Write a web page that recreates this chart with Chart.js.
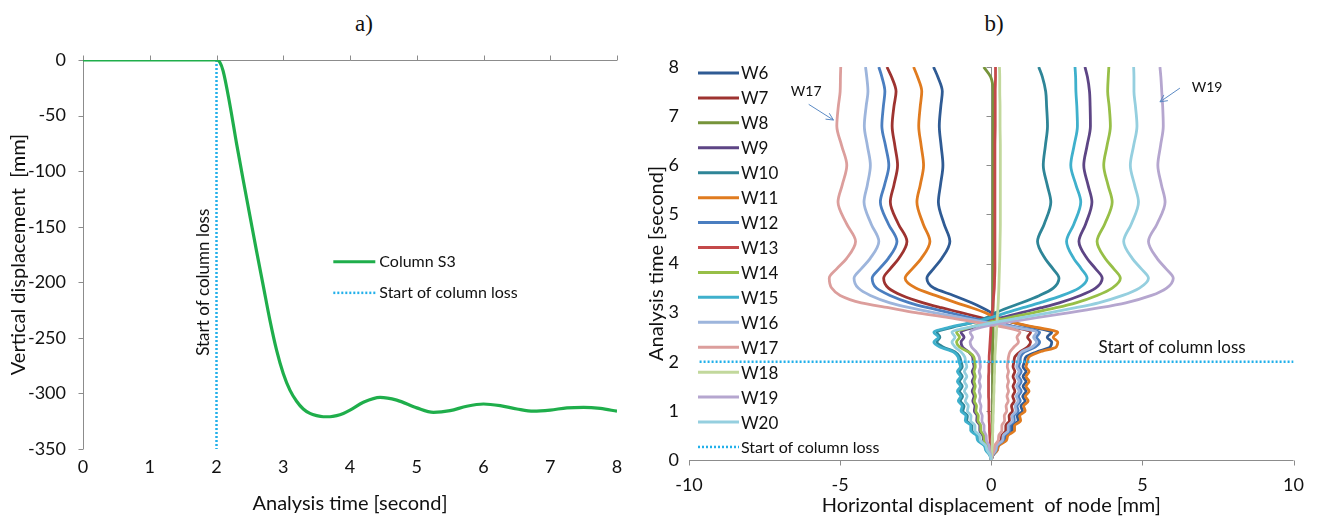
<!DOCTYPE html>
<html><head><meta charset="utf-8">
<script src="https://cdn.jsdelivr.net/npm/chart.js@4"></script>
<style>
body{margin:0;background:#fff;width:1318px;height:518px;overflow:hidden;position:relative;font-family:Lato,sans-serif}
#ca{position:absolute;left:0;top:0}
#cb{position:absolute;left:640px;top:0}
.pt{position:absolute;top:11px;font-family:'Liberation Serif',serif;font-size:23px;color:#111;transform:translateX(-50%)}
</style></head><body>
<div class="pt" style="left:364px">a)</div>
<div class="pt" style="left:994px">b)</div>
<canvas id="ca" width="640" height="518"></canvas>
<canvas id="cb" width="678" height="518"></canvas>
<script>
// ---------- Panel a data ----------
const aTime = [0,0.5,1,1.5,1.9,2.0,2.05,2.1,2.2,2.3,2.4,2.5,2.6,2.7,2.8,2.9,3.0,3.1,3.2,3.3,3.4,3.5,3.6,3.7,3.8,3.9,4.0,4.2,4.45,4.7,5.0,5.25,5.5,5.75,6.0,6.25,6.5,6.75,7.0,7.25,7.5,7.75,8.0];
const aDisp = [0,0,0,0,0,0,-2,-10,-40,-75,-108,-140,-172,-203,-234,-261,-282,-297,-307,-314,-318,-320,-321,-321,-320,-318,-315,-308,-303.5,-306,-313,-317,-315.5,-311.5,-309.5,-311,-314,-316,-315,-313,-312.5,-313.5,-316];
const lossTime = 2;
const aXTicks = [0,1,2,3,4,5,6,7,8];
const aYTicks = [0,-50,-100,-150,-200,-250,-300,-350];

// ---------- Panel b data ----------
const T = [0,0.1,0.2,0.3,0.4,0.5,0.6,0.7,0.8,0.9,1.0,1.1,1.2,1.3,1.4,1.5,1.6,1.7,1.8,1.9,2.0,
  2.1,2.2,2.3,2.4,2.5,2.6,2.7,2.8,2.9,3.0,3.1,3.2,3.35,3.5,3.7,
  3.9,4.1,4.45,4.8,5.25,5.6,6.0,6.4,6.8,7.2,7.5,7.8,8.0];
const W6 = [0,.06,.19,.24,.46,.51,.70,.70,.89,.86,1.03,.98,1.12,1.04,1.15,1.05,1.15,1.05,1.15,1.05,1.1,
  1.15,1.5,1.95,2.0,1.85,2.0,1.4,.7,.25,0,-.3,-.65,-1.25,-1.9,-2.13,
  -1.9,-1.64,-1.37,-1.56,-1.75,-1.68,-1.6,-1.66,-1.72,-1.67,-1.62,-1.77,-1.91];
const W7 = [0,.04,.13,.17,.32,.35,.48,.48,.60,.59,.70,.67,.76,.71,.78,.72,.78,.72,.78,.72,.75,
  .78,.95,1.2,1.3,1.2,1.3,.8,.25,-.35,-1.0,-1.65,-2.25,-2.95,-3.4,-3.56,
  -3.33,-3.06,-2.79,-3.07,-3.34,-3.22,-3.1,-3.19,-3.28,-3.22,-3.15,-3.3,-3.45];
const W8 = [0,.01,.02,.02,.03,.03,.03,.04,.04,.04,.04,.05,.05,.05,.05,.05,.05,.05,.05,.05,.05,
  .05,.05,.05,.05,.06,.06,.06,.06,.06,.06,.06,.06,.06,.06,.06,
  .06,.06,.06,.06,.06,.06,.06,.06,.06,.06,.06,-.02,-.25];
const W9 = [0,-.03,-.10,-.13,-.25,-.28,-.38,-.38,-.48,-.47,-.56,-.54,-.61,-.57,-.63,-.57,-.63,-.57,-.63,-.57,-.6,
  -.62,-.75,-.95,-1.0,-.9,-1.0,-.6,-.2,.35,1.0,1.65,2.25,2.95,3.45,3.67,
  3.44,3.17,2.9,3.12,3.33,3.2,3.06,3.17,3.28,3.27,3.25,3.18,3.1];
const W10 = [0,-.05,-.17,-.22,-.42,-.46,-.64,-.64,-.81,-.79,-.94,-.90,-1.02,-.95,-1.05,-.96,-1.05,-.96,-1.05,-.96,-1.0,
  -1.05,-1.2,-1.6,-1.8,-1.7,-1.8,-1.3,-.6,-.15,.15,.55,1.0,1.6,2.05,2.24,
  2.03,1.78,1.53,1.75,1.97,1.85,1.72,1.79,1.86,1.83,1.8,1.69,1.57];
const W11 = [0,.06,.20,.26,.50,.55,.77,.77,.97,.94,1.12,1.07,1.22,1.13,1.25,1.15,1.25,1.15,1.25,1.15,1.2,
  1.25,1.6,2.15,2.2,2.05,2.2,1.5,.7,.15,-.2,-.65,-1.15,-1.85,-2.5,-2.85,
  -2.6,-2.32,-2.03,-2.25,-2.46,-2.35,-2.24,-2.32,-2.4,-2.35,-2.3,-2.44,-2.57];
const W12 = [0,.05,.16,.21,.40,.44,.61,.61,.76,.75,.89,.85,.96,.90,.99,.91,.99,.91,.99,.91,.95,
  .97,1.1,1.45,1.6,1.5,1.6,.9,0,-.7,-1.4,-2.1,-2.7,-3.35,-3.8,-3.94,
  -3.69,-3.41,-3.12,-3.4,-3.67,-3.53,-3.39,-3.5,-3.62,-3.57,-3.52,-3.62,-3.72];
const W13 = [0,-.01,-.02,-.03,-.04,-.05,-.06,-.06,-.07,-.07,-.08,-.08,-.08,-.09,-.09,-.09,-.09,-.09,-.08,-.08,-.07,
  -.07,-.06,-.05,-.04,-.03,-.02,-.01,0,.02,.03,.05,.06,.08,.1,.11,
  .12,.12,.12,.12,.12,.12,.12,.12,.13,.13,.13,.14,.14];
const W14 = [0,-.03,-.09,-.12,-.23,-.25,-.35,-.35,-.44,-.43,-.51,-.49,-.56,-.52,-.57,-.53,-.57,-.53,-.57,-.53,-.55,
  -.58,-.75,-1.05,-1.15,-1.05,-1.15,-.7,-.1,.6,1.4,2.15,2.8,3.5,4.0,4.27,
  4.04,3.77,3.5,3.75,4.0,3.86,3.72,3.83,3.94,3.9,3.85,3.87,3.89];
const W15 = [0,-.05,-.18,-.24,-.45,-.49,-.68,-.68,-.86,-.84,-1.0,-.96,-1.09,-1.01,-1.12,-1.02,-1.12,-1.02,-1.12,-1.02,-1.07,
  -1.1,-1.25,-1.7,-1.9,-1.75,-1.9,-1.4,-.6,0,.5,1.05,1.6,2.35,2.9,3.17,
  2.97,2.73,2.49,2.73,2.96,2.8,2.63,2.74,2.85,2.83,2.8,2.79,2.77];
const W16 = [0,.04,.15,.19,.37,.40,.56,.56,.71,.69,.82,.79,.89,.83,.92,.84,.92,.84,.92,.84,.88,
  .9,1.0,1.35,1.5,1.4,1.5,.8,-.2,-1.0,-1.9,-2.7,-3.35,-4.0,-4.4,-4.54,
  -4.29,-4.01,-3.72,-3.97,-4.21,-4.1,-4.0,-4.1,-4.2,-4.14,-4.08,-4.12,-4.16];
const W17 = [0,.03,.09,.12,.23,.25,.35,.35,.44,.43,.51,.49,.56,.52,.57,.53,.57,.53,.57,.53,.55,
  .57,.62,.75,.9,.85,.95,.45,-.5,-1.4,-2.5,-3.4,-4.3,-5.0,-5.28,-5.36,
  -5.10,-4.79,-4.49,-4.78,-5.07,-4.93,-4.78,-4.95,-5.11,-5.06,-5.0,-4.99,-4.98];
const W18 = [0,.01,.02,.03,.03,.04,.05,.05,.06,.06,.07,.07,.08,.08,.09,.09,.1,.1,.11,.11,.12,
  .12,.13,.14,.15,.16,.17,.18,.19,.2,.21,.22,.23,.24,.25,.26,
  .27,.28,.29,.3,.3,.3,.3,.3,.29,.29,.28,.28,.27];
const W19 = [0,-.02,-.06,-.08,-.16,-.17,-.24,-.24,-.31,-.30,-.36,-.34,-.39,-.36,-.40,-.36,-.40,-.36,-.40,-.36,-.38,
  -.4,-.5,-.65,-.7,-.62,-.7,-.35,.5,1.5,2.6,3.6,4.45,5.3,5.8,6.02,
  5.77,5.49,5.2,5.48,5.75,5.63,5.51,5.6,5.69,5.67,5.64,5.61,5.58];
const W20 = [0,-.04,-.14,-.19,-.36,-.39,-.54,-.54,-.68,-.67,-.79,-.76,-.86,-.80,-.89,-.81,-.89,-.81,-.89,-.81,-.85,
  -.88,-1.0,-1.2,-1.3,-1.2,-1.3,-.75,.1,1.0,1.95,2.8,3.55,4.35,4.9,5.2,
  4.95,4.67,4.38,4.63,4.87,4.74,4.6,4.71,4.82,4.77,4.72,4.72,4.71];
const seriesNames = ['W6','W7','W8','W9','W10','W11','W12','W13','W14','W15','W16','W17','W18','W19','W20'];
const seriesValues = [W6,W7,W8,W9,W10,W11,W12,W13,W14,W15,W16,W17,W18,W19,W20];
const lossLineX = [-9.65, 10];
const bXTicks = [-10,-5,0,5,10];
const bYTicks = [0,1,2,3,4,5,6,7,8];

// ---------- styles ----------
const seriesColors = ['#2f5b94','#9e3330','#76943a','#5d4585','#2e8597','#e07b1f','#4a7ec0','#c4494a','#97bf47','#3fb0cc','#9db5dc','#dc9e9c','#c2d89c','#b5a6cf','#95cfdf'];
const greenCol = '#1fae4b';
const lossCol = '#22b0ea';
const axisCol = '#8c8c8c';
const txtCol = '#111111';
Chart.defaults.font.family = 'Lato, sans-serif';
Chart.defaults.color = txtCol;

// ---------- Panel a ----------
const axesA = {
  id: 'axesA',
  beforeDatasetsDraw(chart) {
    const {ctx, scales: {x, y}} = chart;
    ctx.save();
    ctx.strokeStyle = axisCol; ctx.lineWidth = 1;
    const x0 = Math.round(x.getPixelForValue(0)) + 0.5;
    const yTop = Math.round(y.getPixelForValue(0)) + 0.5;
    ctx.beginPath();
    ctx.moveTo(x0, yTop); ctx.lineTo(x0, y.getPixelForValue(-350));
    ctx.moveTo(x0, yTop); ctx.lineTo(x.getPixelForValue(8), yTop);
    aYTicks.forEach(v => { const p = Math.round(y.getPixelForValue(v)) + 0.5; ctx.moveTo(x0 - 5, p); ctx.lineTo(x0, p); });
    aXTicks.forEach(v => { const p = Math.round(x.getPixelForValue(v)) + 0.5; ctx.moveTo(p, yTop - 5); ctx.lineTo(p, yTop); });
    ctx.stroke();
    ctx.restore();
  },
  afterDraw(chart) {
    const {ctx, scales: {x, y}} = chart;
    ctx.save();
    ctx.fillStyle = txtCol;
    ctx.font = '17px Lato';
    ctx.translate(x.getPixelForValue(lossTime) - 13, y.getPixelForValue(-200));
    ctx.rotate(-Math.PI / 2);
    ctx.textAlign = 'center'; ctx.textBaseline = 'middle';
    ctx.fillText('Start of column loss', 0, 0);
    ctx.restore();
    ctx.save();
    const lx = x.getPixelForValue(3.75), ly1 = y.getPixelForValue(-181.5), ly2 = y.getPixelForValue(-209.5);
    ctx.lineWidth = 3; ctx.strokeStyle = greenCol;
    ctx.beginPath(); ctx.moveTo(lx, ly1); ctx.lineTo(lx + 42, ly1); ctx.stroke();
    ctx.lineWidth = 2.5; ctx.strokeStyle = lossCol; ctx.setLineDash([2, 2]);
    ctx.beginPath(); ctx.moveTo(lx, ly2); ctx.lineTo(lx + 42, ly2); ctx.stroke();
    ctx.setLineDash([]);
    ctx.fillStyle = txtCol; ctx.font = '16px Lato'; ctx.textBaseline = 'middle';
    ctx.fillText('Column S3', lx + 46, ly1);
    ctx.fillText('Start of column loss', lx + 46, ly2);
    ctx.restore();
  }
};

new Chart(document.getElementById('ca'), {
  type: 'scatter',
  data: { datasets: [
    { label: 'Column S3', data: aTime.map((t, i) => ({x: t, y: aDisp[i]})), showLine: true,
      borderColor: greenCol, borderWidth: 3.2, pointRadius: 0, cubicInterpolationMode: 'monotone', order: 0 },
    { label: 'Start of column loss', data: [{x: lossTime, y: 0}, {x: lossTime, y: -350}], showLine: true,
      borderColor: lossCol, borderWidth: 2.5, borderDash: [2, 2], pointRadius: 0, order: 1 }
  ]},
  options: {
    responsive: false, animation: false, events: [],
    layout: { padding: { left: 0, right: 23, top: 60, bottom: 0 } },
    plugins: { legend: { display: false }, tooltip: { enabled: false } },
    scales: {
      x: { type: 'linear', min: 0, max: 8,
        afterBuildTicks: s => { s.ticks = aXTicks.map(v => ({value: v})); },
        ticks: { font: { size: 18 }, color: txtCol, padding: 7 },
        grid: { display: false, drawTicks: false }, border: { display: false },
        title: { display: true, text: 'Analysis time [second]', font: { size: 20 }, color: txtCol, padding: { top: 0, bottom: 2 } },
        afterFit: s => { s.height = 69; } },
      y: { type: 'linear', min: -350, max: 0,
        afterBuildTicks: s => { s.ticks = aYTicks.map(v => ({value: v})); },
        ticks: { font: { size: 18 }, color: txtCol, padding: 17 },
        grid: { display: false, drawTicks: false }, border: { display: false },
        title: { display: true, text: 'Vertical displacement  [mm]', font: { size: 20 }, color: txtCol, padding: { top: 7, bottom: 0 } },
        afterFit: s => { s.width = 83; } }
    }
  },
  plugins: [axesA]
});

// ---------- Panel b ----------
const axesB = {
  id: 'axesB',
  beforeDatasetsDraw(chart) {
    const {ctx, scales: {x, y}} = chart;
    ctx.save();
    ctx.strokeStyle = axisCol; ctx.lineWidth = 1;
    const yb = Math.round(y.getPixelForValue(0)) + 0.5;
    const xc = Math.round(x.getPixelForValue(0)) + 0.5;
    ctx.beginPath();
    ctx.moveTo(x.getPixelForValue(-10), yb); ctx.lineTo(x.getPixelForValue(10), yb);
    bXTicks.forEach(v => { const p = Math.round(x.getPixelForValue(v)) + 0.5; ctx.moveTo(p, yb); ctx.lineTo(p, yb + 5); });
    ctx.moveTo(xc, yb); ctx.lineTo(xc, y.getPixelForValue(8));
    bYTicks.forEach(v => { const p = Math.round(y.getPixelForValue(v)) + 0.5; ctx.moveTo(xc - 5, p); ctx.lineTo(xc, p); });
    ctx.stroke();
    ctx.restore();
  },
  afterDraw(chart) {
    const {ctx, chartArea: ca, scales: {x, y}} = chart;
    ctx.save();
    const lx = ca.left + 9, top = ca.top + 6, step = 24.93;
    ctx.font = '17px Lato'; ctx.textBaseline = 'middle'; ctx.fillStyle = txtCol;
    seriesNames.forEach((n, i) => {
      const yy = top + i * step;
      ctx.strokeStyle = seriesColors[i]; ctx.lineWidth = 3;
      ctx.beginPath(); ctx.moveTo(lx, yy); ctx.lineTo(lx + 41, yy); ctx.stroke();
      ctx.fillText(n, lx + 43, yy + 1);
    });
    const yl = top + 15 * step;
    ctx.strokeStyle = lossCol; ctx.lineWidth = 2.5; ctx.setLineDash([2, 2]);
    ctx.beginPath(); ctx.moveTo(lx, yl); ctx.lineTo(lx + 41, yl); ctx.stroke();
    ctx.setLineDash([]);
    ctx.font = '16px Lato';
    ctx.fillText('Start of column loss', lx + 43, yl + 1);
    ctx.font = '17px Lato';
    ctx.fillText('Start of column loss', x.getPixelForValue(3.55), y.getPixelForValue(2.28));
    ctx.font = '14px Lato';
    ctx.fillText('W17', x.getPixelForValue(-6.63), y.getPixelForValue(7.51));
    ctx.fillText('W19', x.getPixelForValue(6.63), y.getPixelForValue(7.59));
    const arrow = (v1, t1, v2, t2) => {
      const x1 = x.getPixelForValue(v1), y1 = y.getPixelForValue(t1), x2 = x.getPixelForValue(v2), y2 = y.getPixelForValue(t2);
      const a = Math.atan2(y2 - y1, x2 - x1), h = 8;
      ctx.strokeStyle = '#5b8ac4'; ctx.lineWidth = 1;
      ctx.beginPath(); ctx.moveTo(x1, y1); ctx.lineTo(x2, y2);
      ctx.moveTo(x2 - h * Math.cos(a - 0.45), y2 - h * Math.sin(a - 0.45)); ctx.lineTo(x2, y2);
      ctx.lineTo(x2 - h * Math.cos(a + 0.45), y2 - h * Math.sin(a + 0.45));
      ctx.stroke();
    };
    arrow(-6.04, 7.24, -5.22, 6.92);
    arrow(6.24, 7.57, 5.58, 7.29);
    ctx.restore();
  }
};

const bSets = seriesValues.map((arr, i) => ({
  label: seriesNames[i], data: arr.map((v, k) => ({x: v, y: T[k]})), showLine: true,
  borderColor: seriesColors[i], borderWidth: 2.8, pointRadius: 0,
  cubicInterpolationMode: 'monotone', order: 20 - i
}));
bSets.push({ label: 'Start of column loss', data: lossLineX.map(v => ({x: v, y: lossTime})), showLine: true,
  borderColor: lossCol, borderWidth: 2.5, borderDash: [2, 2], pointRadius: 0, order: -1 });

new Chart(document.getElementById('cb'), {
  type: 'scatter',
  data: { datasets: bSets },
  options: {
    indexAxis: 'y',
    responsive: false, animation: false, events: [],
    layout: { padding: { left: 0, right: 20, top: 67, bottom: 0 } },
    plugins: { legend: { display: false }, tooltip: { enabled: false } },
    scales: {
      x: { type: 'linear', min: -10, max: 10,
        afterBuildTicks: s => { s.ticks = bXTicks.map(v => ({value: v})); },
        ticks: { font: { size: 18 }, color: txtCol, padding: 14 },
        grid: { display: false, drawTicks: false }, border: { display: false },
        title: { display: true, text: 'Horizontal displacement  of node [mm]', font: { size: 20 }, color: txtCol, padding: { top: 0, bottom: 0 } },
        afterFit: s => { s.height = 58; } },
      y: { type: 'linear', min: 0, max: 8,
        afterBuildTicks: s => { s.ticks = bYTicks.map(v => ({value: v})); },
        ticks: { font: { size: 18 }, color: txtCol, padding: 10 },
        grid: { display: false, drawTicks: false }, border: { display: false },
        title: { display: true, text: 'Analysis time [second]', font: { size: 20 }, color: txtCol, padding: { top: 5, bottom: 0 } },
        afterFit: s => { s.width = 49; } }
    }
  },
  plugins: [axesB]
});
</script>
</body></html>
